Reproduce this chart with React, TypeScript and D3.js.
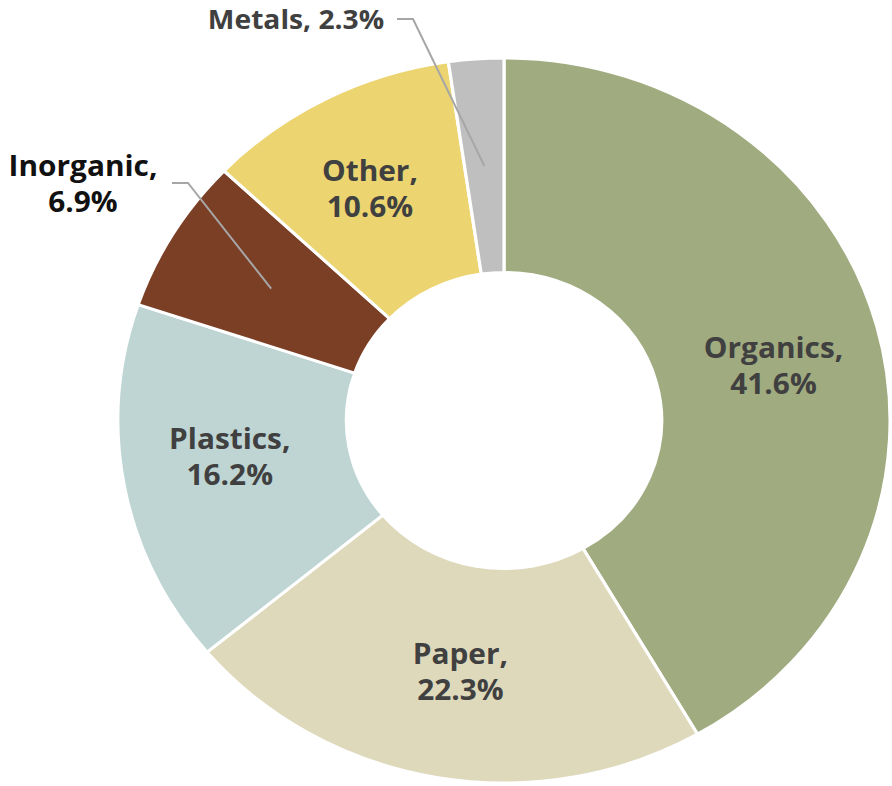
import React, { useRef, useEffect } from "react";
import * as d3 from "d3";

const categories = ["Organics", "Paper", "Plastics", "Inorganic", "Other", "Metals"];
const values = [41.6, 22.3, 16.2, 6.9, 10.6, 2.3];
const colors = ["#A0AB80", "#DFD9BC", "#BED5D3", "#7B3F26", "#ECD471", "#BFBFBF"];

// layout
const W = 892, H = 786;
const CX = 504, CY = 420.5, SX = 1.065;
const R_OUT = 362.5, R_IN = 148;
const insideNudge: Record<string, [number, number]> = {
  Organics: [7, 12],
  Paper: [4, 0],
  Plastics: [-7, -10],
  Other: [-9, -5],
};
const outside: Record<string, { lines: string[]; x: number; y: number; size: number; path: [number, number][]; color: string }> = {
  Inorganic: { lines: ["Inorganic,", "6.9%"], x: 83, y: 176, size: 28, path: [[172, 183], [188, 183]], color: "#111111" },
  Metals: { lines: ["Metals, 2.3%"], x: 296, y: 28.5, size: 26.5, path: [[397, 19], [413, 19]], color: "#404040" },
};

export default function App() {
  const ref = useRef<SVGSVGElement>(null);
  useEffect(() => {
    const svg = d3.select(ref.current);
    svg.selectAll("*").remove();
    const data = categories.map((c, i) => ({ name: c, value: values[i], color: colors[i] }));
    const pie = d3.pie<any>().sort(null).value((d) => d.value);
    const arcs = pie(data);
    const arc = d3.arc<any>().innerRadius(R_IN).outerRadius(R_OUT);
    const g = svg.append("g").attr("transform", `translate(${CX},${CY}) scale(${SX},1)`);
    g.selectAll("path.slice")
      .data(arcs)
      .enter()
      .append("path")
      .attr("class", "slice")
      .attr("d", arc as any)
      .attr("fill", (d: any) => d.data.color)
      .attr("stroke", "#ffffff")
      .attr("stroke-width", 3)
      .attr("stroke-linejoin", "round");

    const font = "'Open Sans', sans-serif";
    arcs.forEach((a: any) => {
      const [px, py] = arc.centroid(a);
      const sx = CX + px * SX;
      const sy = CY + py;
      const name = a.data.name;
      if (insideNudge[name]) {
        const [dx, dy] = insideNudge[name];
        const t = svg
          .append("text")
          .attr("text-anchor", "middle")
          .attr("font-family", font)
          .attr("font-weight", 700)
          .attr("font-size", 28)
          .attr("fill", "#404040")
          .attr("transform", `translate(${sx + dx},${sy + dy}) scale(${SX},1)`);
        t.append("tspan").attr("x", 0).attr("y", -8).text(`${name},`);
        t.append("tspan").attr("x", 0).attr("y", 28).text(`${a.data.value.toFixed(1)}%`);
      } else if (outside[name]) {
        const o = outside[name];
        const pts = [...o.path, [sx, sy]] as [number, number][];
        svg
          .append("path")
          .attr("d", d3.line()(pts) as string)
          .attr("fill", "none")
          .attr("stroke", "#A6A6A6")
          .attr("stroke-width", 2);
        const t = svg
          .append("text")
          .attr("text-anchor", "middle")
          .attr("font-family", font)
          .attr("font-weight", 700)
          .attr("font-size", o.size)
          .attr("fill", o.color)
          .attr("transform", `translate(${o.x},${o.y}) scale(${SX},1)`);
        o.lines.forEach((l, i) => t.append("tspan").attr("x", 0).attr("y", i * 36).text(l));
      }
    });
  }, []);
  return (
    <svg
      ref={ref}
      width={W}
      height={H}
      style={{ position: "absolute", left: 0, top: 0, background: "#ffffff" }}
    />
  );
}
